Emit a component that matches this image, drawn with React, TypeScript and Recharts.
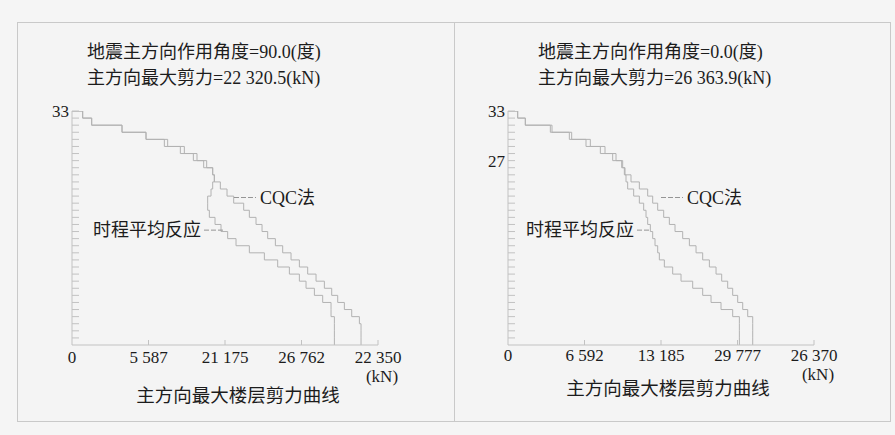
import React from "react"
import { LineChart, Line, XAxis, YAxis, ReferenceLine } from "recharts"

const FONT = '"Liberation Serif", "Noto Sans CJK SC", serif'
const AXIS = "#c2c2c2"
const STEP = "#b2b2b2"
const INK = "#1c1c1c"

// story shear per floor, listed from floor 33 down to floor 1
const leftCqc = [
  779, 1437, 3652, 5406, 6988, 8206, 9131, 9837, 10276, 10397, 10836, 11323, 11810,
  12540, 12954, 13441, 13880, 14293, 14854, 15389, 15998, 16607, 17215, 17824, 18433,
  18969, 19407, 19894, 20430, 20990, 21111, 21111, 21111,
]
const leftTh = [
  779, 1437, 3652, 5406, 6745, 7914, 8863, 9618, 10276, 10397, 10276, 10154, 9910,
  9910, 10032, 10446, 10885, 11371, 11980, 12954, 14050, 15024, 15876, 16607, 17094,
  17703, 18311, 18920, 18920, 19164, 19164, 19164, 19164,
]
const rightCqc = [
  833, 1494, 3792, 5487, 7096, 8360, 9309, 9883, 10084, 10601, 11320, 12038, 12469,
  12900, 13417, 13905, 14394, 15055, 15629, 16204, 16778, 17353, 17928, 18416, 18933,
  19364, 19795, 20226, 20657, 21088, 21088, 21088, 21088,
]
const rightTh = [
  833, 1494, 3649, 5286, 6723, 7958, 9021, 9797, 10027, 10170, 10314, 10831, 11320,
  11693, 11894, 12038, 12268, 12469, 12670, 12900, 13043, 13474, 14193, 14911, 15916,
  16778, 17497, 18358, 19364, 19939, 19939, 19939, 19939,
]

const floorTicks = Array.from({ length: 34 }, (_, i) => i)

const leftXTicks = [0, 5587.5, 11175, 16762.5, 22350]
const leftXLabels = ["0", "5 587", "21 175", "26 762", "22 350"]
const rightXTicks = [0, 6592.5, 13185, 19777.5, 26370]
const rightXLabels = ["0", "6 592", "13 185", "29 777", "26 370"]

const leftYLabels: Record<number, string> = { 33: "33" }
const rightYLabels: Record<number, string> = { 33: "33", 26: "27" }

const leftTitle = ["地震主方向作用角度=90.0(度)", "主方向最大剪力=22 320.5(kN)"]
const rightTitle = ["地震主方向作用角度=0.0(度)", "主方向最大剪力=26 363.9(kN)"]
const caption = "主方向最大楼层剪力曲线"

// start at the axis on the roof level, then one vertical step per floor
function toSteps(values: number[]) {
  const top = values.length
  return [{ v: 0, f: top }, ...values.map((v, i) => ({ v, f: top - 1 - i }))]
}

type PanelProps = {
  left: number
  width: number
  title: string[]
  titleX: number
  captionX: number
  captionY: number
  xMax: number
  xTicks: number[]
  xLabels: string[]
  yLabels: Record<number, string>
  cqc: number[]
  th: number[]
  cqcLeader: [number, number, number]
  thLeader: [number, number, number]
  marginLeft: number
  labelDy: number
  unitDy: number
}

function Panel(p: PanelProps) {
  const xTick = (props: any) => {
    const { x, y, index } = props
    return (
      <g>
        {index > 0 && <line x1={x} x2={x} y1={y} y2={y - 5} stroke={AXIS} />}
        <text x={x} y={y + p.labelDy} textAnchor="middle" fontSize={17} fill={INK} fontFamily={FONT}>
          {p.xLabels[index]}
        </text>
        {index === p.xLabels.length - 1 && (
          <text x={x + 4} y={y + p.labelDy + p.unitDy} textAnchor="middle" fontSize={17} fill={INK} fontFamily={FONT}>
            (kN)
          </text>
        )}
      </g>
    )
  }
  const yTick = (props: any) => {
    const { x, y, payload } = props
    const label = p.yLabels[payload.value]
    return (
      <g>
        {payload.value > 0 && <line x1={x} x2={x + 7} y1={y} y2={y} stroke={AXIS} />}
        {label && (
          <text x={x - 3} y={y} dy="0.35em" textAnchor="end" fontSize={17} fill={INK} fontFamily={FONT}>
            {label}
          </text>
        )}
      </g>
    )
  }
  const rightLabel = (text: string) => (props: any) => {
    const vb = props.viewBox
    return (
      <text x={vb.x + vb.width + 4} y={vb.y} dy="0.35em" fontSize={18} fill={INK} fontFamily={FONT}>
        {text}
      </text>
    )
  }
  const leftLabel = (text: string) => (props: any) => {
    const vb = props.viewBox
    return (
      <text x={vb.x - 3} y={vb.y} dy="0.35em" textAnchor="end" fontSize={18} fill={INK} fontFamily={FONT}>
        {text}
      </text>
    )
  }

  return (
    <div
      style={{
        position: "absolute",
        left: p.left,
        top: 22,
        width: p.width,
        height: 400,
        boxSizing: "border-box",
        border: "1px solid #c9c9c9",
        background: "#f4f4f4",
      }}
    >
      {p.title.map((t, i) => (
        <div
          key={t}
          style={{
            position: "absolute",
            left: p.titleX,
            top: 16 + i * 26,
            lineHeight: "26px",
            fontSize: 18,
            fontFamily: FONT,
            color: INK,
            whiteSpace: "nowrap",
          }}
        >
          {t}
        </div>
      ))}
      <div
        style={{
          position: "absolute",
          left: p.captionX - 110,
          width: 220,
          top: p.captionY - 13,
          lineHeight: "26px",
          textAlign: "center",
          fontSize: 18.5,
          fontFamily: FONT,
          color: INK,
          whiteSpace: "nowrap",
        }}
      >
        {caption}
      </div>
      <div style={{ position: "absolute", left: -1, top: -1 }}>
        <LineChart width={p.width} height={400} margin={{ top: 89, right: p.width - 1 - p.marginLeft - 306, bottom: 0, left: 0 }}>
          <XAxis
            type="number"
            dataKey="v"
            domain={[0, p.xMax]}
            ticks={p.xTicks}
            interval={0}
            height={77}
            tickSize={0}
            tickMargin={0}
            tickLine={false}
            axisLine={{ stroke: AXIS }}
            tick={xTick}
            allowDataOverflow
          />
          <YAxis
            type="number"
            dataKey="f"
            domain={[0, 33]}
            ticks={floorTicks}
            interval={0}
            width={p.marginLeft + 1}
            tickSize={0}
            tickMargin={0}
            tickLine={false}
            axisLine={{ stroke: AXIS }}
            tick={yTick}
            allowDataOverflow
          />
          <Line
            data={toSteps(p.th)}
            dataKey="f"
            type="stepAfter"
            stroke={STEP}
            strokeWidth={1}
            dot={false}
            activeDot={false}
            isAnimationActive={false}
          />
          <Line
            data={toSteps(p.cqc)}
            dataKey="f"
            type="stepAfter"
            stroke={STEP}
            strokeWidth={1}
            dot={false}
            activeDot={false}
            isAnimationActive={false}
          />
          <ReferenceLine
            segment={[
              { x: p.cqcLeader[0], y: p.cqcLeader[2] },
              { x: p.cqcLeader[1], y: p.cqcLeader[2] },
            ]}
            stroke="#959595"
            strokeDasharray="5 2"
            label={rightLabel("CQC法")}
          />
          <ReferenceLine
            segment={[
              { x: p.thLeader[0], y: p.thLeader[2] },
              { x: p.thLeader[1], y: p.thLeader[2] },
            ]}
            stroke="#959595"
            strokeDasharray="5 2"
            label={leftLabel("时程平均反应")}
          />
        </LineChart>
      </div>
    </div>
  )
}

export default function App() {
  return (
    <div
      style={{
        position: "absolute",
        left: 0,
        top: 0,
        width: 895,
        height: 435,
        background: "#f5f5f5",
        overflow: "hidden",
      }}
    >
      <Panel
        left={17}
        width={438}
        title={leftTitle}
        titleX={69}
        captionX={220}
        captionY={373}
        xMax={22350}
        xTicks={leftXTicks}
        xLabels={leftXLabels}
        yLabels={leftYLabels}
        cqc={leftCqc}
        th={leftTh}
        cqcLeader={[11832, 13439, 20.8]}
        thLeader={[9641, 11029, 16.2]}
        marginLeft={54}
        labelDy={18}
        unitDy={19}
      />
      <Panel
        left={454}
        width={437}
        title={rightTitle}
        titleX={83}
        captionX={213}
        captionY={366}
        xMax={26370}
        xTicks={rightXTicks}
        xLabels={rightXLabels}
        yLabels={rightYLabels}
        cqc={rightCqc}
        th={rightTh}
        cqcLeader={[13186, 15082, 20.8]}
        thLeader={[11117, 12324, 16.2]}
        marginLeft={53}
        labelDy={16}
        unitDy={19}
      />
    </div>
  )
}
